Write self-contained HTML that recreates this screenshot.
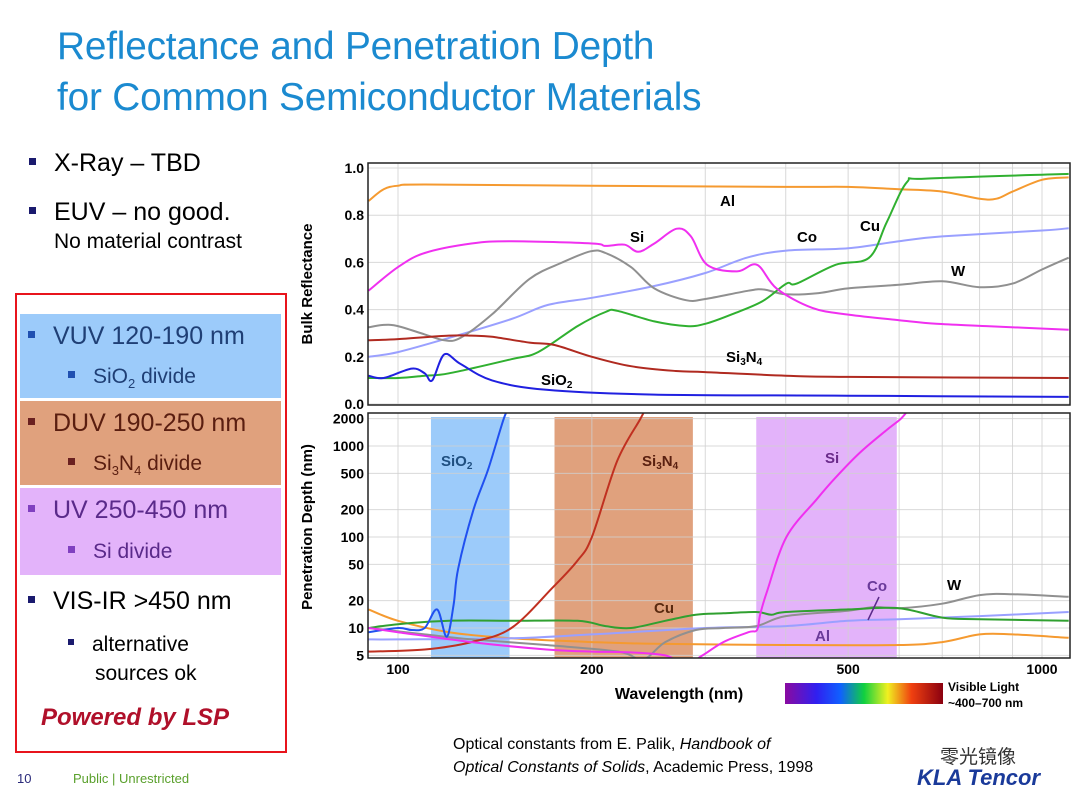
<!DOCTYPE html>
<html><head><meta charset="utf-8"><style>
body{margin:0;width:1080px;height:804px;background:#fff;position:relative;overflow:hidden;font-family:"Liberation Sans",Arial,sans-serif}
.abs{position:absolute}
.title{left:57px;top:21px;font-size:38.8px;line-height:51px;color:#1b8ad0;letter-spacing:-0.2px}
.b{font-size:25px;color:#000}
.sq{display:inline-block;width:7px;height:7px;margin-right:18px;vertical-align:middle;position:relative;top:-3px}
.box{position:absolute;left:20px;width:261px}
</style></head><body>
<div class="abs title">Reflectance and Penetration Depth<br>for Common Semiconductor Materials</div>
<div class="abs b" style="left:29px;top:149px"><span class="sq" style="background:#1a1a6e"></span>X-Ray – TBD</div>
<div class="abs b" style="left:29px;top:198px"><span class="sq" style="background:#1a1a6e"></span>EUV – no good.</div>
<div class="abs" style="left:54px;top:230px;font-size:21px">No material contrast</div>
<div class="abs" style="left:15px;top:293px;width:268px;height:456px;border:2px solid #e8141c"></div>
<div class="box" style="top:314px;height:84px;background:#9ccbfa">
 <div class="abs" style="left:8px;top:8px;font-size:25px;color:#1f3f75"><span class="sq" style="background:#2050b0"></span>VUV 120-190 nm</div>
 <div class="abs" style="left:48px;top:51px;font-size:21px;color:#1f3f75"><span class="sq" style="background:#2050b0"></span>SiO<sub style="font-size:13px">2</sub> divide</div></div>
<div class="box" style="top:401px;height:84px;background:#e0a17d">
 <div class="abs" style="left:8px;top:8px;font-size:25px;color:#5a1e10"><span class="sq" style="background:#6a2020"></span>DUV 190-250 nm</div>
 <div class="abs" style="left:48px;top:51px;font-size:21px;color:#5a1e10"><span class="sq" style="background:#6a2020"></span>Si<sub style="font-size:13px">3</sub>N<sub style="font-size:13px">4</sub> divide</div></div>
<div class="box" style="top:488px;height:87px;background:#e3b3fa">
 <div class="abs" style="left:8px;top:8px;font-size:25px;color:#5a2a8a"><span class="sq" style="background:#8040c0"></span>UV 250-450 nm</div>
 <div class="abs" style="left:48px;top:52px;font-size:21px;color:#5a2a8a"><span class="sq" style="background:#8040c0"></span>Si divide</div></div>
<div class="abs b" style="left:28px;top:587px"><span class="sq" style="background:#1a1a6e"></span>VIS-IR &gt;450 nm</div>
<div class="abs" style="left:68px;top:630px;font-size:21px;line-height:29px"><span class="sq" style="background:#1a1a6e;width:6px;height:6px"></span>alternative<br><span style="margin-left:27px">sources ok</span></div>
<div class="abs" style="left:41px;top:704px;font-size:24px;font-weight:bold;font-style:italic;color:#b0102a">Powered by LSP</div>
<div class="abs" style="left:17px;top:771px;font-size:13px;color:#2a2a7a">10</div>
<div class="abs" style="left:73px;top:771px;font-size:13px;color:#5aa02c">Public | Unrestricted</div>
<div class="abs" style="left:453px;top:733px;font-size:16px;line-height:23px">Optical constants from E. Palik, <i>Handbook of<br>Optical Constants of Solids</i>, Academic Press, 1998</div>
<div class="abs" style="left:940px;top:742px;font-size:19px;color:#333;font-family:'Liberation Sans','Noto Sans CJK SC',sans-serif">零光镜像</div>
<div class="abs" style="left:917px;top:765px;font-size:22px;font-weight:bold;font-style:italic;color:#1a3a9a">KLA Tencor</div>

<svg class="abs" style="left:0;top:0" width="1080" height="804">
<defs>
<clipPath id="c1"><rect x="368" y="163" width="702" height="242"/></clipPath>
<clipPath id="c2"><rect x="368" y="413" width="702" height="245"/></clipPath>
<linearGradient id="vis" x1="0" x2="1"><stop offset="0" stop-color="#8a0aa0"/><stop offset="0.2" stop-color="#3020f0"/><stop offset="0.35" stop-color="#1060ff"/><stop offset="0.5" stop-color="#10d040"/><stop offset="0.65" stop-color="#f0f020"/><stop offset="0.8" stop-color="#f04010"/><stop offset="1" stop-color="#8a0010"/></linearGradient>
</defs>
<g id="g1"></g><g id="g2"></g>
<rect x="785" y="683" width="158" height="21" fill="url(#vis)"/>
<text x="948" y="691" font-size="12" font-weight="bold" font-family="Liberation Sans">Visible Light</text>
<text x="948" y="707" font-size="12" font-weight="bold" font-family="Liberation Sans">~400–700 nm</text>
</svg>
<script>
const gridWl=[100,200,300,400,500,600,700,800,900,1000];
const xTicks=[100,200,500,1000];
const reflTicks=[0,0.2,0.4,0.6,0.8,1.0];
const penTicks=[5,10,20,50,100,200,500,1000,2000];
const bands=[[112.5,149,'#9ccbfa','SiO2'],[175,287,'#e0a17d','Si3N4'],[360,595,'#e3b3fa','Si']];
const alWl=[90,95,100,110,200,400,500,600,700,800,850,900,1000,1100];
const alR=[0.86,0.91,0.925,0.93,0.925,0.92,0.92,0.91,0.90,0.87,0.87,0.90,0.95,0.96];
const siWl=[90,100,110,130,150,200,210,225,236,250,271,285,302,336,361,387,440,502,600,685,820,1100];
const siR=[0.48,0.58,0.64,0.68,0.69,0.68,0.67,0.675,0.645,0.68,0.743,0.71,0.59,0.562,0.59,0.49,0.407,0.378,0.355,0.34,0.33,0.315];
const coWl=[90,100,120,150,171,200,250,300,348,401,500,600,700,1000,1100];
const coR=[0.2,0.22,0.28,0.36,0.42,0.45,0.5,0.555,0.62,0.65,0.66,0.69,0.71,0.735,0.745];
const wWl=[90,95,100,110,118,125,140,160,180,199,210,230,250,280,300,350,370,400,450,500,600,700,800,900,1000,1100];
const wR=[0.325,0.335,0.33,0.295,0.27,0.28,0.38,0.53,0.6,0.647,0.64,0.58,0.49,0.44,0.445,0.48,0.485,0.465,0.47,0.49,0.505,0.52,0.495,0.51,0.57,0.62];
const cuWl=[90,100,110,120,150,165,190,210,219,250,281,300,330,368,401,416,478,539,574,617,661,1100];
const cuR=[0.11,0.11,0.12,0.13,0.19,0.22,0.33,0.39,0.395,0.35,0.33,0.34,0.38,0.435,0.51,0.51,0.59,0.62,0.77,0.94,0.955,0.975];
const snWl=[90,100,120,130,140,160,175,200,230,270,300,400,500,1100];
const snR=[0.27,0.275,0.29,0.29,0.285,0.26,0.25,0.2,0.16,0.14,0.135,0.12,0.115,0.11];
const soWl=[90,95,105,110,113,118,125,140,170,250,500,1100];
const soR=[0.12,0.11,0.15,0.13,0.10,0.21,0.17,0.1,0.06,0.04,0.035,0.03];
const soPWl=[90,100,105,110,115,119,122,124,131,138,146,150];
const soP=[9,10,9.5,10,16,8,18,45,200,550,2000,3000];
const snPWl=[90,110,130,150,174,190,200,219,238,245];
const snP=[5.5,5.8,7,10,28,55,100,686,2000,3000];
const siPWl=[90,100,130,170,200,230,260,280,297,320,350,361,365,374,401,447,478,522,574,604,620];
const siP=[10,9,7,5.8,5.5,5.4,5,4,5,7,9,9.5,14,25,100,260,450,850,1500,2000,2500];
const cuPWl=[90,100,120,150,190,210,230,260,290,320,360,380,400,500,600,700,800,1100];
const cuP=[10,11,12,12,12,10.5,10,12,14,14.5,15,14,15,16,16.5,13,12.5,12];
const coPWl=[90,100,150,200,300,400,500,600,800,1100];
const coP=[7.5,7.5,7.7,8.5,10,10.5,12,12.5,13.5,15];
const wPWl=[90,110,130,170,220,240,260,290,320,360,400,500,550,600,700,800,900,1100];
const wP=[10,8.5,7.5,6.5,5.5,4.5,7,9.5,10,10.5,13.5,15.5,17,16.5,18.5,23,23.5,22];
const alPWl=[90,100,120,150,200,250,400,600,700,800,900,1100];
const alP=[16,12,9,7.7,7,6.7,6.5,6.5,7,8.5,8.5,7.8];

const NS='http://www.w3.org/2000/svg';
const X=w=>398+644*Math.log10(w/100);
const Y1=v=>404-236*v;
const Y2=v=>628-91*Math.log10(v/10);
function el(p,t,a){const e=document.createElementNS(NS,t);for(const k in a)e.setAttribute(k,a[k]);p.appendChild(e);return e;}
function txt(p,x,y,s,o){const e=el(p,'text',Object.assign({x:x,y:y,'font-family':'Liberation Sans','font-weight':'bold','font-size':14},o||{}));e.innerHTML=s;return e;}
function line(p,wl,vals,Y,color,name,clip){
 const P=wl.map((w,i)=>[X(w),Y(vals[i])]);
 let d='M'+P[0][0].toFixed(1)+','+P[0][1].toFixed(1);
 for(let i=0;i<P.length-1;i++){
  const p0=P[Math.max(0,i-1)],p1=P[i],p2=P[i+1],p3=P[Math.min(P.length-1,i+2)];
  const c1=[p1[0]+(p2[0]-p0[0])/6,p1[1]+(p2[1]-p0[1])/6],c2=[p2[0]-(p3[0]-p1[0])/6,p2[1]-(p3[1]-p1[1])/6];
  d+=' C'+c1.map(v=>v.toFixed(1))+' '+c2.map(v=>v.toFixed(1))+' '+p2.map(v=>v.toFixed(1));
 }
 const e=el(p,'path',{d:d,fill:'none',stroke:color,'stroke-width':2,'stroke-linejoin':'round','clip-path':'url(#'+clip+')'});
 
 
}
const g1=document.getElementById('g1'),g2=document.getElementById('g2');
el(g1,'rect',{x:368,y:163,width:702,height:242,fill:'#fff'});
gridWl.forEach(w=>{const l=el(g1,'line',{x1:X(w),x2:X(w),y1:163,y2:405,stroke:'#d8d8d8'});});
reflTicks.forEach(v=>{el(g1,'line',{x1:368,x2:1070,y1:Y1(v),y2:Y1(v),stroke:'#d8d8d8'});const t=txt(g1,364,Y1(v)+5,v.toFixed(1),{'text-anchor':'end'});});
line(g1,alWl,alR,Y1,'#f59a30','al-reflectance','c1');
line(g1,coWl,coR,Y1,'#9aa0ff','co-reflectance','c1');
line(g1,wWl,wR,Y1,'#909090','w-reflectance','c1');
line(g1,cuWl,cuR,Y1,'#30b030','cu-reflectance','c1');
line(g1,snWl,snR,Y1,'#b02a20','si3n4-reflectance','c1');
line(g1,soWl,soR,Y1,'#2020e0','sio2-reflectance','c1');
line(g1,siWl,siR,Y1,'#f030f0','si-reflectance','c1');
el(g1,'rect',{x:368,y:163,width:702,height:242,fill:'none',stroke:'#222','stroke-width':1.5});
txt(g1,720,206,'Al',{'font-size':15});txt(g1,630,242,'Si',{'font-size':15});txt(g1,797,242,'Co',{'font-size':15});txt(g1,860,231,'Cu',{'font-size':15});txt(g1,951,276,'W',{'font-size':15});
txt(g1,726,362,'Si<tspan font-size="10" dy="3">3</tspan><tspan dy="-3">N</tspan><tspan font-size="10" dy="3">4</tspan>',{'font-size':15});
txt(g1,541,385,'SiO<tspan font-size="10" dy="3">2</tspan>',{'font-size':15});
txt(g1,0,0,'Bulk Reflectance',{transform:'translate(312,284) rotate(-90)','text-anchor':'middle','font-size':15});
el(g2,'rect',{x:368,y:413,width:702,height:245,fill:'#fff'});
bands.forEach(b=>{const r=el(g2,'rect',{x:X(b[0]),y:417,width:X(b[1])-X(b[0]),height:241,fill:b[2]});});
gridWl.forEach(w=>el(g2,'line',{x1:X(w),x2:X(w),y1:413,y2:658,stroke:'#d0d0d0','stroke-opacity':0.8}));
penTicks.forEach(v=>{el(g2,'line',{x1:368,x2:1070,y1:Y2(v),y2:Y2(v),stroke:'#d0d0d0','stroke-opacity':0.8});const t=txt(g2,364,Y2(v)+5,String(v),{'text-anchor':'end'});});
line(g2,alPWl,alP,Y2,'#f59a30','al-penetration','c2');
line(g2,coPWl,coP,Y2,'#9aa0ff','co-penetration','c2');
line(g2,wPWl,wP,Y2,'#909090','w-penetration','c2');
line(g2,cuPWl,cuP,Y2,'#30a030','cu-penetration','c2');
line(g2,snPWl,snP,Y2,'#c03020','si3n4-penetration','c2');
line(g2,soPWl,soP,Y2,'#2050f0','sio2-penetration','c2');
line(g2,siPWl,siP,Y2,'#f030f0','si-penetration','c2');
el(g2,'rect',{x:368,y:413,width:702,height:245,fill:'none',stroke:'#222','stroke-width':1.5});
xTicks.forEach(w=>{const t=txt(g2,X(w),674,String(w),{'text-anchor':'middle'});});
txt(g2,441,466,'SiO<tspan font-size="10" dy="3">2</tspan>',{fill:'#1f4f80','font-size':15});
txt(g2,642,466,'Si<tspan font-size="10" dy="3">3</tspan><tspan dy="-3">N</tspan><tspan font-size="10" dy="3">4</tspan>',{fill:'#5a2010','font-size':15});
txt(g2,825,463,'Si',{fill:'#6a2a8a','font-size':15});
txt(g2,654,613,'Cu',{fill:'#5a2a10','font-size':15});txt(g2,867,591,'Co',{fill:'#6a3a9a','font-size':15});txt(g2,947,590,'W',{'font-size':15});txt(g2,815,641,'Al',{fill:'#6a3a9a','font-size':15});
el(g2,'line',{x1:879,y1:597,x2:868,y2:620,stroke:'#5a2a8a','stroke-width':1.5});
txt(g2,0,0,'Penetration Depth (nm)',{transform:'translate(312,527) rotate(-90)','text-anchor':'middle','font-size':15});
txt(g2,679,699,'Wavelength (nm)',{'text-anchor':'middle','font-size':16});
</script>
</body></html>
